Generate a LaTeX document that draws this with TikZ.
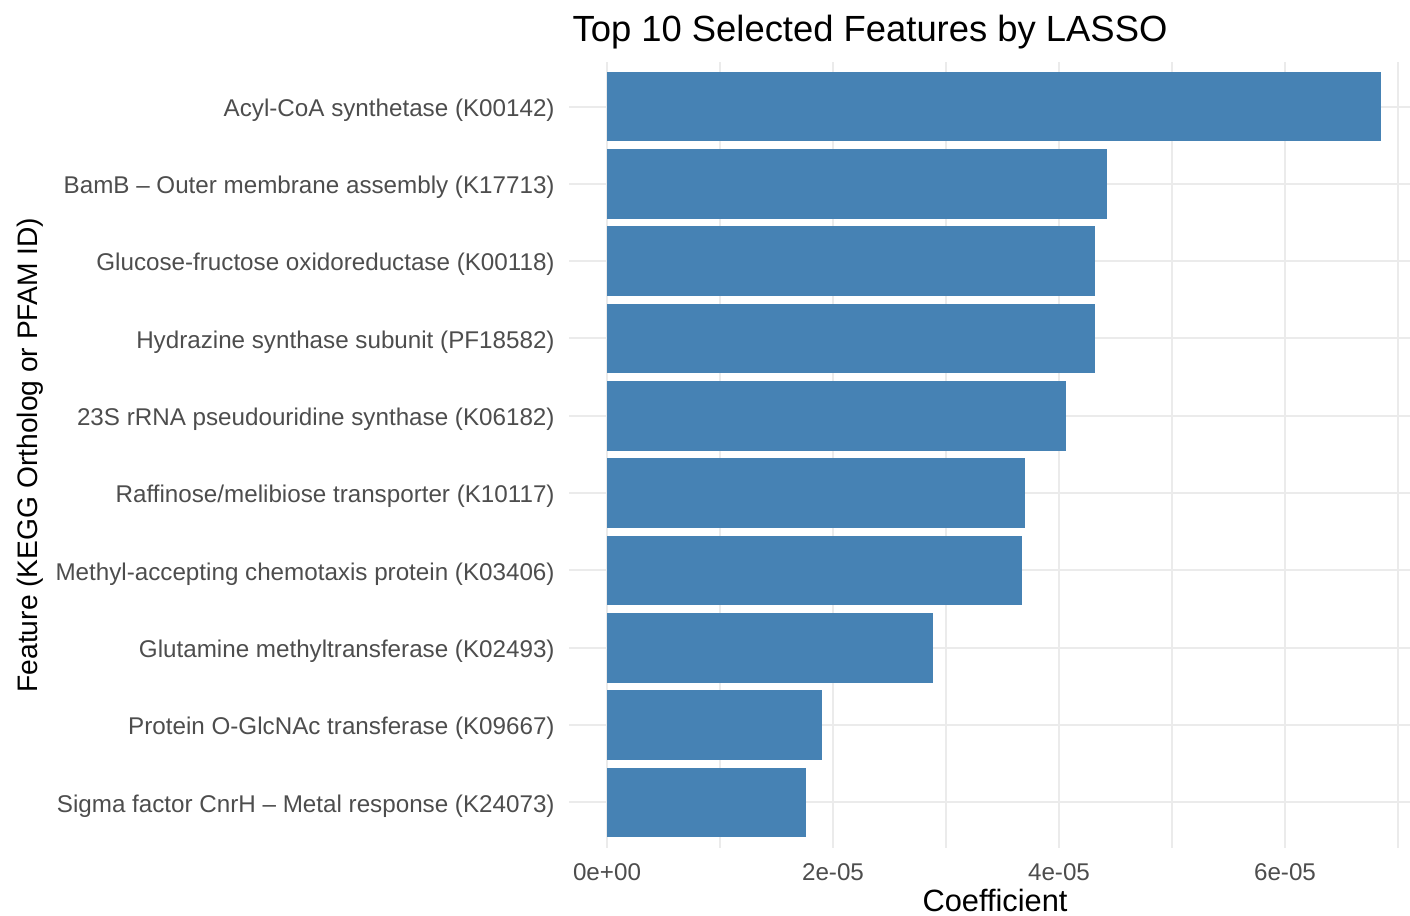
\documentclass[tikz,border=0pt]{standalone}
\usepackage{fontspec}
\setmainfont{Liberation Sans}
\definecolor{barblue}{HTML}{4682B4}
\definecolor{gridgray}{HTML}{EBEBEB}
\definecolor{axisgray}{HTML}{4D4D4D}
\begin{document}
\begin{tikzpicture}[x=0.5pt,y=-0.5pt,
    majorgrid/.style={draw=gridgray,line width=1pt},
    minorgrid/.style={draw=gridgray,line width=0.7pt},
    bar/.style={fill=barblue},
    ticklabel/.style={text=axisgray,inner sep=0pt,font=\fontsize{12.1}{14}\selectfont},
    axistitle/.style={inner sep=0pt,font=\fontsize{15.4}{18}\selectfont}]
  \useasboundingbox (0,0) rectangle (1410,916);
  % grid
  \foreach \x in {720,946,1172,1398}
    \draw[minorgrid] (\x,62) -- (\x,848);
  \foreach \x/\t in {607/0e+00,833/2e-05,1059/4e-05,1285/6e-05}
  {
    \draw[majorgrid] (\x,62) -- (\x,848);
    \node[ticklabel] (tick\x) at (\x,872) {\t};
  }
  \foreach \i in {1,...,10}
  {
    \pgfmathsetmacro{\yc}{106.5+77.33*(\i-1)}
    \draw[majorgrid] (569,\yc) -- (1410,\yc);
  }
  % bars and feature names
  \foreach \w/\lab [count=\i] in {
      774/{Acyl-CoA synthetase (K00142)},
      500/{BamB – Outer membrane assembly (K17713)},
      488/{Glucose-fructose oxidoreductase (K00118)},
      488/{Hydrazine synthase subunit (PF18582)},
      459/{23S rRNA pseudouridine synthase (K06182)},
      418/{Raffinose/melibiose transporter (K10117)},
      415/{Methyl-accepting chemotaxis protein (K03406)},
      326/{Glutamine methyltransferase (K02493)},
      215/{Protein O-GlcNAc transferase (K09667)},
      199/{Sigma factor CnrH – Metal response (K24073)}}
  {
    \pgfmathsetmacro{\yc}{106.5+77.33*(\i-1)}
    \fill[bar] (607,\yc-34.8) rectangle ++(\w,69.6);
    \node[ticklabel,anchor=east] (feat\i) at (555,\yc+3.5) {\lab};
  }
  % titles
  \node[anchor=base,inner sep=0pt,font=\fontsize{18.2}{22}\selectfont] (title) at (870,41)
    {Top 10 Selected Features by LASSO};
  \node[axistitle,anchor=base] (xtitle) at (995,911) {Coefficient};
  \node[axistitle,anchor=base,rotate=90,font=\fontsize{14.1}{17}\selectfont] (ytitle) at (38,455)
    {Feature (KEGG Ortholog or PFAM ID)};
\end{tikzpicture}
\end{document}
